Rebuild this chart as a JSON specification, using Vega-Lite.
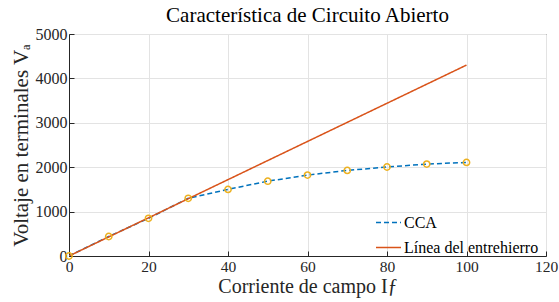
{
  "$schema": "https://vega.github.io/schema/vega-lite/v6.json",
  "autosize": "none",
  "width": 477,
  "height": 222,
  "padding": {"left": 69, "top": 34, "right": 13, "bottom": 46},
  "background": "white",
  "config": {
    "font": "Liberation Serif",
    "view": {"stroke": "#262626", "strokeWidth": 1},
    "axis": {"labelFont": "Liberation Serif", "titleFont": "Liberation Serif"},
    "legend": {"labelFont": "Liberation Serif"}
  },
  "title": {"text": "Característica de Circuito Abierto", "fontSize": 21, "font": "Liberation Serif", "fontWeight": "normal", "color": "#000000", "offset": 0},
  "data": {"values": [
    {"I": 0, "V": 0, "serie": "CCA"},
    {"I": 10, "V": 440, "serie": "CCA"},
    {"I": 20, "V": 849, "serie": "CCA"},
    {"I": 30, "V": 1299, "serie": "CCA"},
    {"I": 40, "V": 1500, "serie": "CCA"},
    {"I": 50, "V": 1685, "serie": "CCA"},
    {"I": 60, "V": 1822, "serie": "CCA"},
    {"I": 70, "V": 1928, "serie": "CCA"},
    {"I": 80, "V": 2004, "serie": "CCA"},
    {"I": 90, "V": 2070, "serie": "CCA"},
    {"I": 100, "V": 2108, "serie": "CCA"},
    {"I": 0, "V": 0, "serie": "Línea del entrehierro"},
    {"I": 100, "V": 4300, "serie": "Línea del entrehierro"}
  ]},
  "layer": [
    {
      "mark": {"type": "line", "strokeWidth": 1.5, "clip": true},
      "encoding": {
        "x": {"field": "I", "type": "quantitative", "scale": {"domain": [0, 120], "nice": false},
          "axis": {"values": [0, 20, 40, 60, 80, 100, 120], "format": "d", "title": "Corriente de campo Iƒ", "titleFontSize": 20, "titleFontWeight": "normal", "titleColor": "#262626", "titlePadding": 2, "labelFontSize": 15.5, "labelColor": "#262626", "domainColor": "#262626", "tickColor": "#262626", "tickSize": -5, "labelPadding": 8, "gridColor": "#e3e3e3", "labelFlush": false}},
        "y": {"field": "V", "type": "quantitative", "scale": {"domain": [0, 5000], "nice": false},
          "axis": {"values": [0, 1000, 2000, 3000, 4000, 5000], "format": "d", "title": "Voltaje en terminales Vₐ", "titleFontSize": 21, "titleFontWeight": "normal", "titleColor": "#262626", "titlePadding": 4, "labelFontSize": 16, "labelColor": "#262626", "domainColor": "#262626", "tickColor": "#262626", "tickSize": -5, "labelPadding": 7, "gridColor": "#e3e3e3", "labelFlush": false}},
        "color": {"field": "serie", "type": "nominal",
          "scale": {"domain": ["CCA", "Línea del entrehierro"], "range": ["#0072BD", "#D95319"]},
          "legend": {"title": null, "orient": "none", "legendX": 306, "legendY": 175, "symbolType": "stroke", "symbolSize": 625, "symbolStrokeWidth": 1.5, "labelFontSize": 16, "labelColor": "#000000", "rowPadding": 3, "labelOffset": 2}},
        "strokeDash": {"field": "serie", "type": "nominal",
          "scale": {"domain": ["CCA", "Línea del entrehierro"], "range": [[5, 3], [1, 0]]}},
        "order": {"field": "I", "type": "quantitative"}
      }
    },
    {
      "transform": [{"filter": "datum.serie === 'CCA'"}],
      "mark": {"type": "point", "shape": "circle", "filled": false, "stroke": "#EDB120", "strokeWidth": 1.5, "size": 40, "opacity": 1},
      "encoding": {
        "x": {"field": "I", "type": "quantitative"},
        "y": {"field": "V", "type": "quantitative"}
      }
    }
  ]
}
